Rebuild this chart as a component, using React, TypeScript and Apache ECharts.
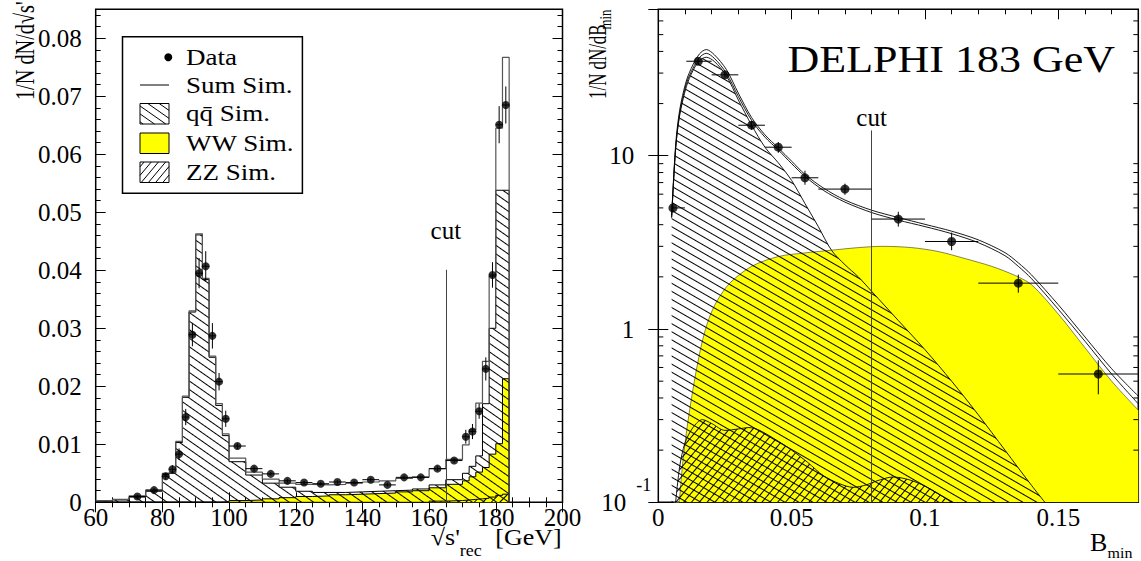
import React, { useEffect, useRef } from 'react';
import * as echarts from 'echarts';

const FONT = "'Liberation Serif', 'Times New Roman', serif";

// ---------------- left panel: sqrt(s') histograms ----------------
const binEdges = [60, 65, 70, 75, 80, 82, 84, 86, 88, 90, 92, 94, 96, 98, 100, 105, 110, 115, 120, 125, 130, 135, 140, 145, 150, 155, 160, 165, 170, 172, 174, 176, 178, 180, 182, 184];
const sumSim = [0.0003, 0.0005, 0.0011, 0.0021, 0.0050, 0.0052, 0.0105, 0.0183, 0.0330, 0.0463, 0.0386, 0.0252, 0.0170, 0.0118, 0.0076, 0.0052, 0.0040, 0.0033, 0.0031, 0.0030, 0.0031, 0.0033, 0.0035, 0.0037, 0.0041, 0.0044, 0.0058, 0.0074, 0.0099, 0.0125, 0.0171, 0.0243, 0.0390, 0.0645, 0.0767];
const qqSim = [0.0002, 0.0004, 0.0009, 0.0019, 0.0048, 0.0050, 0.0103, 0.0181, 0.0328, 0.0461, 0.0384, 0.0250, 0.0167, 0.0115, 0.0070, 0.0047, 0.0033, 0.0026, 0.0019, 0.0017, 0.0017, 0.0018, 0.0019, 0.0020, 0.0021, 0.0023, 0.0030, 0.0039, 0.0050, 0.0062, 0.0080, 0.0170, 0.0300, 0.0538, 0.0538];
const wwSim = [0, 0, 0, 0, 0, 0, 0, 0, 0, 0, 0, 0, 0, 0.0001, 0.0003, 0.0004, 0.0006, 0.0008, 0.0010, 0.0011, 0.0013, 0.0014, 0.0015, 0.0016, 0.0018, 0.0020, 0.0025, 0.0031, 0.0037, 0.0044, 0.0052, 0.0060, 0.0083, 0.0101, 0.0213];
const zzSim = [0, 0, 0, 0, 0, 0, 0, 0, 0, 0, 0, 0, 0, 0, 0, 0, 0, 0, 0, 0, 0, 0, 0, 0, 0, 0, 0.0002, 0.0003, 0.0004, 0.0005, 0.0006, 0.0007, 0.0009, 0.0012, 0.0014];

const dataX = [72.5, 77.5, 81, 83, 85, 87, 89, 91, 93, 95, 97, 99, 102.5, 107.5, 112.5, 117.5, 122.5, 127.5, 132.5, 137.5, 142.5, 147.5, 152.5, 157.5, 162.5, 167.5, 171, 173, 175, 177, 179, 181, 183];
const dataY = [0.0010, 0.0021, 0.0045, 0.0057, 0.0083, 0.0147, 0.0289, 0.0395, 0.0407, 0.0287, 0.0208, 0.0144, 0.0097, 0.0058, 0.0049, 0.0037, 0.0034, 0.0032, 0.0035, 0.0034, 0.0039, 0.0030, 0.0043, 0.0043, 0.0058, 0.0072, 0.0113, 0.0122, 0.0157, 0.0230, 0.0392, 0.0651, 0.0685];
const dataYErr = [0.0003, 0.0004, 0.0006, 0.0007, 0.0010, 0.0014, 0.0020, 0.0026, 0.0026, 0.0022, 0.0015, 0.0014, 0.0005, 0.0004, 0.0003, 0.0003, 0.0003, 0.0003, 0.0003, 0.0003, 0.0003, 0.0003, 0.0003, 0.0003, 0.0004, 0.0004, 0.0012, 0.0013, 0.0013, 0.0020, 0.0022, 0.0032, 0.0032];
const dataXLo = [70, 75, 80, 82, 84, 86, 88, 90, 92, 94, 96, 98, 100, 105, 110, 115, 120, 125, 130, 135, 140, 145, 150, 155, 160, 165, 170, 172, 174, 176, 178, 180, 182];
const dataXHi = [75, 80, 82, 84, 86, 88, 90, 92, 94, 96, 98, 100, 105, 110, 115, 120, 125, 130, 135, 140, 145, 150, 155, 160, 165, 170, 172, 174, 176, 178, 180, 182, 184];

// ---------------- right panel: B_min distributions ----------------
const qqX = [0.005, 0.0065, 0.008, 0.0105, 0.013, 0.0155, 0.018, 0.021, 0.0255, 0.030, 0.035, 0.040, 0.045, 0.050, 0.055, 0.060, 0.065, 0.070, 0.075, 0.080, 0.090, 0.100, 0.110, 0.120, 0.130, 0.140, 0.150];
const qqY = [4.4, 11, 17, 25, 31, 35.5, 37, 35, 29, 21, 15, 11.2, 9.1, 7.2, 5.3, 3.9, 2.84, 2.35, 2.0, 1.65, 1.12, 0.76, 0.50, 0.32, 0.20, 0.125, 0.08];
const sumX = [0.005, 0.0065, 0.008, 0.0105, 0.013, 0.0155, 0.018, 0.021, 0.0255, 0.030, 0.035, 0.040, 0.045, 0.050, 0.055, 0.062, 0.070, 0.080, 0.090, 0.100, 0.110, 0.120, 0.130, 0.135, 0.140, 0.150, 0.160, 0.170, 0.180];
const sum1Y = [4.4, 11, 17.5, 26, 32, 37, 39, 36.5, 30, 22, 16, 12.8, 10.8, 9.0, 7.6, 6.3, 5.4, 4.7, 4.25, 3.9, 3.55, 3.15, 2.65, 2.3, 1.95, 1.3, 0.85, 0.55, 0.37];
const sum2Y = [4.5, 11.5, 18.3, 27, 33.5, 38.8, 41, 38.3, 31.5, 23, 16.6, 13.2, 11.1, 9.3, 7.8, 6.5, 5.55, 4.85, 4.4, 4.02, 3.67, 3.27, 2.76, 2.41, 2.05, 1.38, 0.9, 0.59, 0.41];
const wwX = [0.006, 0.0078, 0.009, 0.0105, 0.012, 0.014, 0.0165, 0.019, 0.022, 0.0268, 0.035, 0.045, 0.055, 0.065, 0.075, 0.084, 0.095, 0.105, 0.115, 0.125, 0.134, 0.140, 0.150, 0.160, 0.170, 0.180];
const wwY = [0.07, 0.1, 0.16, 0.25, 0.36, 0.55, 0.85, 1.15, 1.45, 1.84, 2.3, 2.62, 2.75, 2.85, 2.95, 3.0, 2.95, 2.8, 2.55, 2.3, 2.03, 1.8, 1.22, 0.78, 0.5, 0.34];
const zzX = [0.0062, 0.008, 0.010, 0.013, 0.0165, 0.020, 0.025, 0.030, 0.034, 0.038, 0.045, 0.050, 0.056, 0.062, 0.068, 0.073, 0.078, 0.082, 0.088, 0.094, 0.100, 0.105, 0.110, 0.116];
const zzY = [0.09, 0.16, 0.22, 0.27, 0.30, 0.285, 0.26, 0.265, 0.27, 0.26, 0.225, 0.20, 0.17, 0.142, 0.128, 0.122, 0.126, 0.133, 0.14, 0.135, 0.124, 0.112, 0.10, 0.088];

const bX = [0.0055, 0.015, 0.025, 0.035, 0.045, 0.055, 0.070, 0.090, 0.110, 0.135, 0.165];
const bY = [5.0, 35.1, 29.3, 15.0, 11.2, 7.46, 6.42, 4.31, 3.2, 1.84, 0.55];
const bXLo = [0.005, 0.0105, 0.020, 0.030, 0.040, 0.050, 0.060, 0.080, 0.100, 0.120, 0.150];
const bXHi = [0.010, 0.020, 0.030, 0.040, 0.050, 0.060, 0.080, 0.100, 0.120, 0.150, 0.180];
const bYLo = [4.8, 33.5, 28, 14.1, 10.4, 6.8, 5.95, 3.9, 2.85, 1.62, 0.42];
const bYHi = [5.2, 36.8, 30.6, 15.9, 12.0, 8.2, 6.9, 4.75, 3.6, 2.06, 0.66];

const logMinor = [0.2, 0.3, 0.4, 0.5, 0.6, 0.7, 0.8, 0.9, 2, 3, 4, 5, 6, 7, 8, 9, 20, 30, 40, 50, 60];

// ---------------- helpers ----------------
function histData(edges: number[], vals: number[]) {
  const d: number[][] = [];
  for (let i = 0; i < vals.length; i++) d.push([edges[i], vals[i]]);
  d.push([edges[edges.length - 1], vals[vals.length - 1]]);
  d.push([edges[edges.length - 1], 0]);
  return d;
}
function zip(xs: number[], ys: number[]) {
  return xs.map((x, i) => [x, ys[i]]);
}
function hatch(x0: number, y0: number, w: number, h: number, angDeg: number, spacing: number) {
  const a = (angDeg * Math.PI) / 180;
  const dx = Math.cos(a), dy = Math.sin(a);
  const nx = -dy, ny = dx;
  const corners = [[x0, y0], [x0 + w, y0], [x0, y0 + h], [x0 + w, y0 + h]];
  const ts = corners.map((c) => c[0] * nx + c[1] * ny);
  const tmin = Math.min(...ts), tmax = Math.max(...ts);
  const out: any[] = [];
  for (let t = Math.ceil(tmin / spacing) * spacing; t <= tmax; t += spacing) {
    const bx = t * nx, by = t * ny;
    let smin = -Infinity, smax = Infinity;
    if (Math.abs(dx) > 1e-9) {
      const s1 = (x0 - bx) / dx, s2 = (x0 + w - bx) / dx;
      smin = Math.max(smin, Math.min(s1, s2)); smax = Math.min(smax, Math.max(s1, s2));
    }
    if (Math.abs(dy) > 1e-9) {
      const s1 = (y0 - by) / dy, s2 = (y0 + h - by) / dy;
      smin = Math.max(smin, Math.min(s1, s2)); smax = Math.min(smax, Math.max(s1, s2));
    }
    if (smax - smin > 0.5) {
      out.push({ type: 'line', z: 12, shape: { x1: bx + smin * dx, y1: by + smin * dy, x2: bx + smax * dx, y2: by + smax * dy }, style: { stroke: '#000', lineWidth: 1 } });
    }
  }
  return out;
}

const errRender = (params: any, api: any) => {
  const x = api.value(0), y = api.value(1), xl = api.value(2), xh = api.value(3), yl = api.value(4), yh = api.value(5);
  const a = api.coord([xl, y]), b = api.coord([xh, y]), c = api.coord([x, yl]), d = api.coord([x, yh]);
  return {
    type: 'group',
    children: [
      { type: 'line', shape: { x1: a[0], y1: a[1], x2: b[0], y2: b[1] }, style: { stroke: '#000', lineWidth: 1 } },
      { type: 'line', shape: { x1: c[0], y1: c[1], x2: d[0], y2: d[1] }, style: { stroke: '#000', lineWidth: 1 } },
    ],
  };
};

const minorTickRender = (params: any, api: any) => {
  const p = api.coord([0.01, api.value(1)]);
  const cs = params.coordSys;
  return {
    type: 'group',
    children: [
      { type: 'line', shape: { x1: cs.x, y1: p[1], x2: cs.x + 5, y2: p[1] }, style: { stroke: '#000', lineWidth: 1 } },
      { type: 'line', shape: { x1: cs.x + cs.width - 5, y1: p[1], x2: cs.x + cs.width, y2: p[1] }, style: { stroke: '#000', lineWidth: 1 } },
    ],
  };
};

const hatchBackL = { symbol: 'rect', symbolSize: 1, dashArrayX: [1, 0], dashArrayY: [1, 6], rotation: (35 * Math.PI) / 180, color: '#000' };
const hatchFwdL = { symbol: 'rect', symbolSize: 1, dashArrayX: [1, 0], dashArrayY: [1, 5], rotation: (-45 * Math.PI) / 180, color: '#000' };
const hatchBackR = { symbol: 'rect', symbolSize: 1, dashArrayX: [1, 0], dashArrayY: [1, 6], rotation: (30 * Math.PI) / 180, color: '#000' };
const hatchFwdR = { symbol: 'rect', symbolSize: 1, dashArrayX: [1, 0], dashArrayY: [1, 5], rotation: (-50 * Math.PI) / 180, color: '#000' };

const axisFont = { fontFamily: FONT, fontSize: 25, color: '#000' };
const tickMajor = { show: true, inside: true, length: 10, lineStyle: { color: '#000', width: 1 } };
const tickMinor = { show: true, inside: true, length: 5, lineStyle: { color: '#000', width: 1 } };
const noLine = { show: false };
const noSplit = { show: false };

function vAxis(grid: number, pos: string, min: number, max: number, interval: number, major: boolean, labels: any) {
  return {
    gridIndex: grid, type: 'value', position: pos, min, max, interval,
    axisLine: noLine, splitLine: noSplit,
    axisTick: major ? tickMajor : tickMinor,
    axisLabel: labels ? labels : { show: false },
  };
}

function logLabel(v: number) {
  if (Math.abs(v - 0.1) < 1e-6) return '{b|10}{e|-1}';
  if (Math.abs(v - 1) < 1e-6) return '{b|1}{sp| }';
  if (Math.abs(v - 10) < 1e-4) return '{b|10}{sp| }';
  return '';
}

const L = { left: 95.7, top: 9.3, width: 466.8, height: 493 };
const R = { left: 658.3, top: 9.3, width: 480, height: 493 };

function txt(text: string, x: number, y: number, size: number, align: string, vAlign: string, extra: any = {}) {
  return {
    type: 'text', x, y, z: 12, ...extra,
    style: { text, fontFamily: FONT, fontSize: size, fill: '#000', align, verticalAlign: vAlign, textAlign: align, textVerticalAlign: vAlign },
  };
}

const legendGraphics: any[] = [
  { type: 'rect', z: 11, shape: { x: 122.5, y: 36.7, width: 179.9, height: 156.6 }, style: { fill: '#fff', stroke: '#000', lineWidth: 1.5 } },
  { type: 'circle', z: 12, shape: { cx: 168.3, cy: 57.3, r: 4 }, style: { fill: '#000' } },
  { type: 'line', z: 12, shape: { x1: 140, y1: 85, x2: 169, y2: 85 }, style: { stroke: '#000', lineWidth: 1 } },
  { type: 'rect', z: 12, shape: { x: 140, y: 103.5, width: 29, height: 20.5 }, style: { fill: '#fff', stroke: '#000', lineWidth: 1 } },
  ...hatch(140, 103.5, 29, 20.5, 35, 6.5),
  { type: 'rect', z: 12, shape: { x: 140, y: 133, width: 29, height: 20.5 }, style: { fill: '#ffff00', stroke: '#000', lineWidth: 1 } },
  { type: 'rect', z: 12, shape: { x: 140, y: 162, width: 29, height: 20.5 }, style: { fill: '#fff', stroke: '#000', lineWidth: 1 } },
  ...hatch(140, 162, 29, 20.5, -50, 5.5),
  txt('Data', 186, 57.3, 27, 'left', 'middle', { scaleY: 0.86 }),
  txt('Sum Sim.', 186, 85.5, 27, 'left', 'middle', { scaleY: 0.86 }),
  txt('qq\u0304 Sim.', 186, 113.5, 27, 'left', 'middle', { scaleY: 0.86 }),
  txt('WW Sim.', 186, 143, 27, 'left', 'middle', { scaleY: 0.86 }),
  txt('ZZ Sim.', 186, 172, 27, 'left', 'middle', { scaleY: 0.86 }),
];

const titleGraphics: any[] = [
  txt("1/N dN/d\u221As'", 24.5, 100, 27, 'left', 'middle', { rotation: Math.PI / 2, scaleX: 0.75 }),
  txt('1/N dN/dB', 597, 99, 26, 'left', 'middle', { rotation: Math.PI / 2, scaleX: 0.65 }),
  txt('min', 605, 29.5, 17, 'left', 'middle', { rotation: Math.PI / 2, scaleX: 0.75 }),
  txt("\u221As'", 430.8, 537, 26, 'left', 'middle', { scaleY: 0.9 }),
  txt('rec', 459.8, 551, 18, 'left', 'middle', { scaleY: 0.9 }),
  txt('[GeV]', 561.6, 537, 26, 'right', 'middle', { scaleY: 0.9 }),
  txt('B', 1090, 542.5, 26, 'left', 'middle', { scaleY: 0.95 }),
  txt('min', 1107.5, 553, 16, 'left', 'middle', { scaleY: 0.95 }),
  txt('DELPHI 183 GeV', 1115, 60, 44, 'right', 'middle', { scaleY: 0.85 }),
];

const option: any = {
  animation: false,
  backgroundColor: '#fff',
  textStyle: { fontFamily: FONT, color: '#000' },
  grid: [
    { ...L, show: true, borderColor: '#000', borderWidth: 1.5, backgroundColor: 'transparent', containLabel: false },
    { ...R, show: true, borderColor: '#000', borderWidth: 1.5, backgroundColor: 'transparent', containLabel: false },
  ],
  xAxis: [
    vAxis(0, 'bottom', 60, 200, 20, true, { ...axisFont, margin: 3 }),
    vAxis(0, 'bottom', 60, 200, 5, false, null),
    vAxis(0, 'top', 60, 200, 20, true, null),
    vAxis(0, 'top', 60, 200, 5, false, null),
    vAxis(1, 'bottom', 0, 0.18, 0.05, true, { ...axisFont, margin: 3, showMaxLabel: false }),
    vAxis(1, 'bottom', 0, 0.18, 0.01, false, null),
    vAxis(1, 'top', 0, 0.18, 0.05, true, null),
    vAxis(1, 'top', 0, 0.18, 0.01, false, null),
  ],
  yAxis: [
    vAxis(0, 'left', 0, 0.085, 0.01, true, { ...axisFont, margin: 14, showMaxLabel: false }),
    vAxis(0, 'left', 0, 0.085, 0.002, false, null),
    vAxis(0, 'right', 0, 0.085, 0.01, true, null),
    vAxis(0, 'right', 0, 0.085, 0.002, false, null),
    {
      gridIndex: 1, type: 'log', logBase: 10, position: 'left', min: 0.1, max: 70,
      axisLine: noLine, splitLine: noSplit, axisTick: tickMajor,
      axisLabel: {
        margin: 7, formatter: logLabel, showMaxLabel: false,
        rich: {
          b: { fontSize: 25, fontFamily: FONT, color: '#000' },
          e: { fontSize: 18, fontFamily: FONT, color: '#000', padding: [0, 0, 34, 10] },
          sp: { fontSize: 25, fontFamily: FONT, width: 17 },
        },
      },
    },
    {
      gridIndex: 1, type: 'log', logBase: 10, position: 'right', min: 0.1, max: 70,
      axisLine: noLine, splitLine: noSplit, axisTick: tickMajor, axisLabel: { show: false },
    },
  ],
  graphic: [...legendGraphics, ...titleGraphics],
  series: [
    // ---------- left ----------
    {
      type: 'line', name: 'WW Sim.', xAxisIndex: 0, yAxisIndex: 0, step: 'end', data: histData(binEdges, wwSim),
      showSymbol: false, symbol: 'none', silent: true, z: 2,
      lineStyle: { color: '#000', width: 1 }, itemStyle: { color: '#ffff00' },
      areaStyle: { color: '#ffff00', opacity: 1, origin: 'start' },
    },
    {
      type: 'line', name: 'qq Sim.', xAxisIndex: 0, yAxisIndex: 0, step: 'end', data: histData(binEdges, qqSim),
      showSymbol: false, symbol: 'none', silent: true, z: 3,
      lineStyle: { color: '#000', width: 1 }, itemStyle: { color: 'rgba(0,0,0,0)', decal: hatchBackL },
      areaStyle: { color: 'rgba(255,255,255,0)', opacity: 1, origin: 'start' },
    },
    {
      type: 'line', name: 'ZZ Sim.', xAxisIndex: 0, yAxisIndex: 0, step: 'end', data: histData(binEdges, zzSim),
      showSymbol: false, symbol: 'none', silent: true, z: 3,
      lineStyle: { color: '#000', width: 1 }, itemStyle: { color: 'rgba(0,0,0,0)', decal: hatchFwdL },
      areaStyle: { color: 'rgba(255,255,255,0)', opacity: 1, origin: 'start' },
    },
    {
      type: 'line', name: 'Sum Sim.', xAxisIndex: 0, yAxisIndex: 0, step: 'end', data: histData(binEdges, sumSim),
      showSymbol: false, symbol: 'none', silent: true, z: 4,
      lineStyle: { color: '#555', width: 1.2 },
    },
    {
      type: 'custom', name: 'errL', xAxisIndex: 0, yAxisIndex: 0, silent: true, z: 5,
      renderItem: errRender, encode: { x: [0, 2, 3], y: [1, 4, 5] },
      data: dataX.map((x, i) => [x, dataY[i], dataXLo[i], dataXHi[i], dataY[i] - dataYErr[i], dataY[i] + dataYErr[i]]),
    },
    {
      type: 'scatter', name: 'Data', xAxisIndex: 0, yAxisIndex: 0, silent: true, z: 6,
      symbol: 'circle', symbolSize: 8, itemStyle: { color: '#000' },
      data: zip(dataX, dataY),
      markLine: {
        silent: true, symbol: ['none', 'none'], animation: false,
        lineStyle: { color: '#444', width: 1, type: 'solid' },
        label: { show: true, position: 'end', formatter: 'cut', fontSize: 25, fontFamily: FONT, color: '#000', distance: 27 },
        data: [[{ coord: [165, 0] }, { coord: [165, 0.0401] }]],
      },
    },
    // ---------- right ----------
    {
      type: 'line', name: 'WW B', xAxisIndex: 4, yAxisIndex: 4, smooth: 0.3, data: zip(wwX, wwY),
      showSymbol: false, symbol: 'none', silent: true, z: 2,
      lineStyle: { color: '#333', width: 0.6 }, itemStyle: { color: '#ffff00' },
      areaStyle: { color: '#ffff00', opacity: 1, origin: 'start' },
    },
    {
      type: 'line', name: 'qq B', xAxisIndex: 4, yAxisIndex: 4, smooth: 0.3, data: zip(qqX, qqY),
      showSymbol: false, symbol: 'none', silent: true, z: 3,
      lineStyle: { color: '#000', width: 0.9 }, itemStyle: { color: 'rgba(0,0,0,0)', decal: hatchBackR },
      areaStyle: { color: 'rgba(255,255,255,0)', opacity: 1, origin: 'start' },
    },
    {
      type: 'line', name: 'ZZ B', xAxisIndex: 4, yAxisIndex: 4, smooth: 0.3, data: zip(zzX, zzY),
      showSymbol: false, symbol: 'none', silent: true, z: 3,
      lineStyle: { color: '#000', width: 0.9 }, itemStyle: { color: 'rgba(0,0,0,0)', decal: hatchFwdR },
      areaStyle: { color: 'rgba(255,255,255,0)', opacity: 1, origin: 'start' },
    },
    {
      type: 'line', name: 'Sum1 B', xAxisIndex: 4, yAxisIndex: 4, smooth: 0.3, data: zip(sumX, sum1Y),
      showSymbol: false, symbol: 'none', silent: true, z: 4, lineStyle: { color: '#000', width: 0.9 },
    },
    {
      type: 'line', name: 'Sum2 B', xAxisIndex: 4, yAxisIndex: 4, smooth: 0.3, data: zip(sumX, sum2Y),
      showSymbol: false, symbol: 'none', silent: true, z: 4, lineStyle: { color: '#000', width: 0.9 },
    },
    {
      type: 'custom', name: 'logMinor', xAxisIndex: 4, yAxisIndex: 4, silent: true, z: 5,
      renderItem: minorTickRender, encode: { x: 0, y: 1 },
      data: logMinor.map((v) => [0.01, v]),
    },
    {
      type: 'custom', name: 'errR', xAxisIndex: 4, yAxisIndex: 4, silent: true, z: 5,
      renderItem: errRender, encode: { x: [0, 2, 3], y: [1, 4, 5] },
      data: bX.map((x, i) => [x, bY[i], bXLo[i], bXHi[i], bYLo[i], bYHi[i]]),
    },
    {
      type: 'scatter', name: 'Data B', xAxisIndex: 4, yAxisIndex: 4, silent: true, z: 6,
      symbol: 'circle', symbolSize: 9, itemStyle: { color: '#000' },
      data: zip(bX, bY),
      markLine: {
        silent: true, symbol: ['none', 'none'], animation: false,
        lineStyle: { color: '#444', width: 1, type: 'solid' },
        label: { show: true, position: 'end', formatter: 'cut', fontSize: 25, fontFamily: FONT, color: '#000', distance: 0 },
        data: [[{ coord: [0.08, 0.1] }, { coord: [0.08, 14] }]],
      },
    },
  ],
};

export default function App() {
  const ref = useRef<HTMLDivElement>(null);
  useEffect(() => {
    if (!ref.current) return;
    const chart = echarts.init(ref.current, null, { renderer: 'svg' });
    chart.setOption(option);
    return () => chart.dispose();
  }, []);
  return <div ref={ref} style={{ position: 'fixed', left: 0, top: 0, width: 1141, height: 561, background: '#fff' }} />;
}
